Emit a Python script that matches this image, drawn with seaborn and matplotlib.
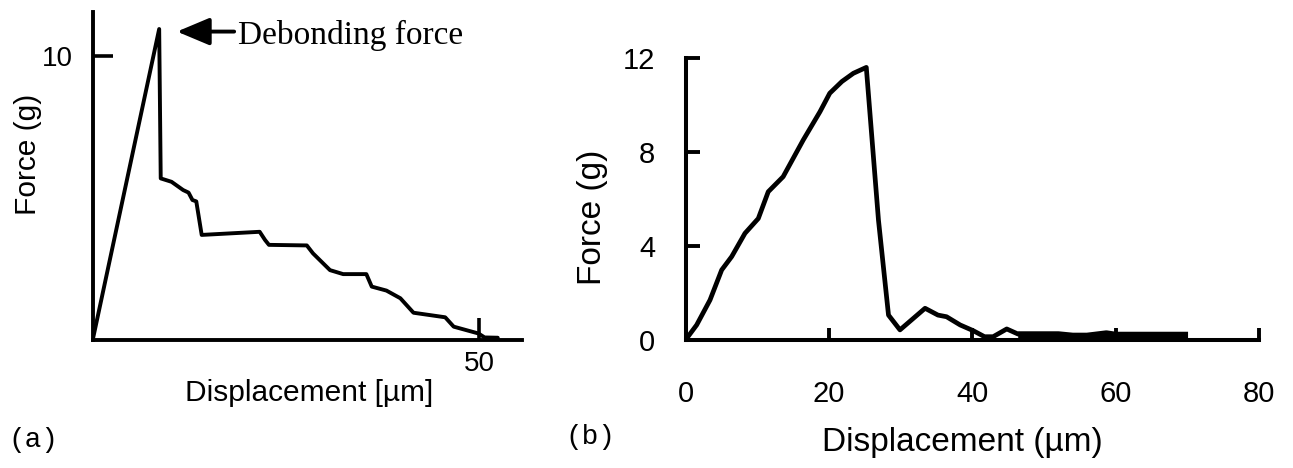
import matplotlib
matplotlib.use("Agg")
import matplotlib.pyplot as plt
import seaborn as sns

# panel (a): debonding curve
disp_a = [0, 8.6, 8.8, 10.2, 11.7, 12.4, 12.9, 13.4, 14.1, 21.6, 22.3, 22.8, 27.7, 28.5,
          30.7, 32.4, 35.4, 36.1, 38.0, 39.8, 41.5, 45.6, 46.7, 49.9, 50.7, 52.4]
force_a = [0, 10.95, 5.69, 5.57, 5.28, 5.19, 4.93, 4.88, 3.70, 3.81, 3.52, 3.35, 3.33, 3.05,
           2.46, 2.32, 2.32, 1.88, 1.74, 1.47, 0.96, 0.80, 0.47, 0.23, 0.09, 0.08]
ticks_a_x = [50]
ticks_a_y = [10]

# panel (b): pull-out curve
disp_b = [0, 0.14, 1.53, 3.39, 5.02, 6.42, 8.27, 10.13, 11.52, 13.6, 16.4, 18.73, 20.1, 21.8,
          23.4, 25.2, 26.9, 28.3, 29.9, 33.4, 35.2, 36.4, 38.3, 40.1, 41.7, 42.9, 44.8, 46.4]
force_b = [0, 0.07, 0.64, 1.70, 2.98, 3.55, 4.54, 5.17, 6.31, 6.95, 8.51, 9.71, 10.5, 11.0,
           11.35, 11.6, 5.1, 1.06, 0.43, 1.35, 1.06, 0.99, 0.64, 0.40, 0.14, 0.14, 0.47, 0.25]
# noisy tail near zero (drawn as a thick band)
disp_b_tail = [46.4, 52.0, 54.0, 56.0, 58.7, 60.0, 70.1]
force_b_tail = [0.2, 0.2, 0.14, 0.14, 0.24, 0.18, 0.18]
ticks_b_x = [0, 20, 40, 60, 80]
ticks_b_y = [0, 4, 8, 12]

W, H = 1293, 468
sns.set_style("ticks", {"axes.edgecolor": "black", "text.color": "black",
                        "xtick.color": "black", "ytick.color": "black"})
plt.rcParams['font.family'] = ['Liberation Sans', 'DejaVu Sans']

fig = plt.figure(figsize=(W / 100, H / 100), dpi=100)


def px_rect(x0, y0, x1, y1):
    # pixel box (top-left origin) -> figure fraction rect
    return [x0 / W, 1 - y1 / H, (x1 - x0) / W, (y1 - y0) / H]


# ---- panel (a)
ax1 = fig.add_axes(px_rect(92.7, 12, 522, 340))
sns.lineplot(x=disp_a, y=force_a, ax=ax1, sort=False, estimator=None, color="black", lw=2.8)
ax1.set_xlim(0, (522 - 92.7) / 7.73)
ax1.set_ylim(0, (340 - 12) / 28.4)
ax1.set_xticks(ticks_a_x)
ax1.set_yticks(ticks_a_y)
ax1.tick_params(direction="in", length=16, width=2.6, labelsize=20, pad=8)
ax1.tick_params(axis="y", length=14.5, pad=14)
for s in ["top", "right"]:
    ax1.spines[s].set_visible(False)
for s in ["left", "bottom"]:
    ax1.spines[s].set_linewidth(2.8)
ax1.set_xlabel("")
ax1.set_ylabel("")

ax1.annotate("", xy=(10.9, 10.86), xytext=(18.3, 10.86),
             arrowprops=dict(arrowstyle="-|>,head_length=1.0,head_width=0.42",
                             mutation_scale=20, lw=2.8, color="black",
                             shrinkA=0, shrinkB=0), annotation_clip=False)
ax1.text(18.8, 10.72, "Debonding force", family="Liberation Serif", fontsize=24,
         va="center", ha="left", clip_on=False)

fig.text(28 / W, 1 - 154 / H, "Force (g)", rotation=90, ha="center", va="center", fontsize=21.5)
fig.text(309 / W, 1 - 393 / H, "Displacement [\u00b5m]", ha="center", va="center", fontsize=21.5)
fig.text(33 / W, 1 - 440 / H, "(a)", family="Liberation Mono", ha="center", va="center", fontsize=20)

# ---- panel (b)
ax2 = fig.add_axes(px_rect(685.7, 58, 1259, 340))
sns.lineplot(x=disp_b, y=force_b, ax=ax2, sort=False, estimator=None, color="black", lw=3.4)
ax2.plot(disp_b_tail, force_b_tail, color="black", lw=5.8, solid_capstyle="butt")
ax2.set_xlim(0, 80)
ax2.set_ylim(0, 12)
ax2.set_xticks(ticks_b_x)
ax2.set_yticks(ticks_b_y)
ax2.tick_params(direction="in", width=2.8, labelsize=21)
ax2.tick_params(axis="x", length=8.5, pad=29)
ax2.tick_params(axis="y", length=10, pad=22)
for s in ["top", "right"]:
    ax2.spines[s].set_visible(False)
for s in ["left", "bottom"]:
    ax2.spines[s].set_linewidth(2.9)
ax2.set_xlabel("")
ax2.set_ylabel("")

fig.text(592 / W, 1 - 217 / H, "Force (g)", rotation=90, ha="center", va="center", fontsize=24)
fig.text(962 / W, 1 - 443 / H, "Displacement (\u00b5m)", ha="center", va="center", fontsize=24)
fig.text(590 / W, 1 - 437 / H, "(b)", family="Liberation Mono", ha="center", va="center", fontsize=20)

fig.savefig("out.png", dpi=100)
